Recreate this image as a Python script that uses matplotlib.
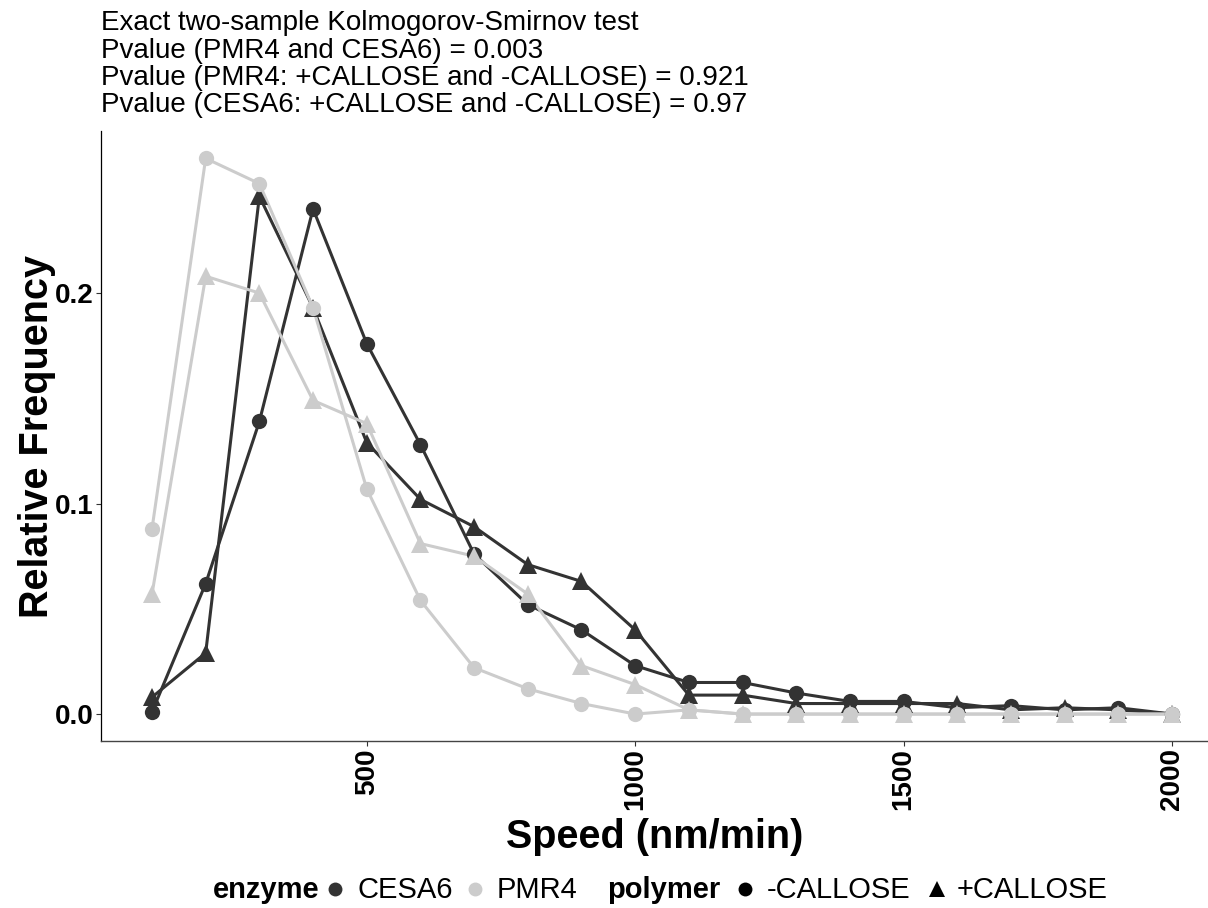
import matplotlib
matplotlib.use('Agg')
import matplotlib.pyplot as plt
from matplotlib.lines import Line2D

# vitesse (nm/min) et fréquences relatives
speed = [100, 200, 300, 400, 500, 600, 700, 800, 900, 1000,
         1100, 1200, 1300, 1400, 1500, 1600, 1700, 1800, 1900, 2000]
cesa6_minus = [0.001, 0.062, 0.139, 0.240, 0.176, 0.128, 0.076, 0.052, 0.040, 0.023,
               0.015, 0.015, 0.010, 0.006, 0.006, 0.003, 0.004, 0.002, 0.003, 0.0]
cesa6_plus = [0.008, 0.029, 0.246, 0.193, 0.129, 0.102, 0.089, 0.071, 0.063, 0.040,
              0.009, 0.009, 0.005, 0.005, 0.005, 0.005, 0.002, 0.003, 0.002, 0.0]
pmr4_minus = [0.088, 0.264, 0.252, 0.193, 0.107, 0.054, 0.022, 0.012, 0.005, 0.0,
              0.002, 0.0, 0.0, 0.0, 0.0, 0.0, 0.0, 0.0, 0.0, 0.0]
pmr4_plus = [0.057, 0.208, 0.200, 0.149, 0.138, 0.081, 0.075, 0.057, 0.023, 0.014,
             0.002, 0.0, 0.0, 0.0, 0.0, 0.0, 0.0, 0.0, 0.0, 0.0]

x_ticks = [500, 1000, 1500, 2000]
y_ticks = [0.0, 0.1, 0.2]
y_tick_labels = ['0.0', '0.1', '0.2']

title_lines = [
    'Exact two-sample Kolmogorov-Smirnov test',
    'Pvalue (PMR4 and CESA6) = 0.003',
    'Pvalue (PMR4: +CALLOSE and -CALLOSE) = 0.921',
    'Pvalue (CESA6: +CALLOSE and -CALLOSE) = 0.97',
]

DARK = '#333333'
LIGHT = '#CCCCCC'
W, H = 1208, 908

plt.rcParams['font.family'] = ['Liberation Sans', 'DejaVu Sans']

fig = plt.figure(figsize=(W / 100, H / 100), dpi=100)
ax = fig.add_axes([101 / W, 1 - 741 / H, (W - 101) / W, (741 - 131) / H])

series = [
    (cesa6_minus, DARK, 'o', 11),
    (cesa6_plus, DARK, '^', 13),
    (pmr4_minus, LIGHT, 'o', 11),
    (pmr4_plus, LIGHT, '^', 13),
]
for y, c, m, s in series:
    ax.plot(speed, y, color=c, lw=2.2, zorder=2, solid_joinstyle='round')
for y, c, m, s in series:
    ax.plot(speed, y, linestyle='none', marker=m, color=c, ms=s, mew=0, zorder=3)

ax.set_xlim(5, 2067)
ax.set_ylim(-0.0128, 0.277)

for side in ['top', 'right']:
    ax.spines[side].set_visible(False)
ax.spines['left'].set_color('black')
ax.spines['left'].set_linewidth(0.9)
ax.spines['bottom'].set_color('#444444')
ax.spines['bottom'].set_linewidth(1.0)

ax.set_xticks(x_ticks)
ax.set_xticklabels([str(v) for v in x_ticks], rotation=90, fontweight='bold', fontsize=20)
ax.set_yticks(y_ticks)
ax.set_yticklabels(y_tick_labels, fontweight='bold', fontsize=20)
ax.tick_params(length=3.6, width=0.8, color='#333333', pad=1.5, labelcolor='black')

ax.set_xlabel('Speed (nm/min)', fontsize=28.5, fontweight='bold', labelpad=5.5)
ax.set_ylabel('Relative Frequency', fontsize=28.5, fontweight='bold', labelpad=-0.5)

# titre sur quatre lignes
baselines = [30, 57.5, 85, 112]
for txt, yb in zip(title_lines, baselines):
    fig.text(101 / W, 1 - yb / H, txt, fontsize=20, va='baseline', ha='left')

# légende en bas, construite à la main
fig.canvas.draw()
renderer = fig.canvas.get_renderer()
leg_base = 1 - 898 / H
leg_mid = 1 - 889 / H
leg_fs = 21

items = [
    ('text', 'enzyme', 'bold', 16),
    ('key', DARK, 'o', 22),
    ('text', 'CESA6', 'normal', 22),
    ('key', LIGHT, 'o', 22),
    ('text', 'PMR4', 'normal', 30),
    ('text', 'polymer', 'bold', 24),
    ('key', 'black', 'o', 22),
    ('text', '-CALLOSE', 'normal', 27),
    ('key', 'black', '^', 19),
    ('text', '+CALLOSE', 'normal', 0),
]

widths = []
for kind, a, b, gap in items:
    if kind == 'text':
        t = fig.text(0, 0, a, fontsize=leg_fs, fontweight=b)
        widths.append(t.get_window_extent(renderer).width)
        t.remove()
    else:
        widths.append(0)
total = sum(widths) + sum(it[3] for it in items[:-1])
cursor = 660 - total / 2
for (kind, a, b, gap), w in zip(items, widths):
    if kind == 'text':
        fig.text(cursor / W, leg_base, a, fontsize=leg_fs, fontweight=b, va='baseline', ha='left')
    else:
        ms = 10 if b == 'o' else 12
        fig.add_artist(Line2D([cursor / W], [leg_mid], marker=b, color=a, ms=ms, mew=0,
                              linestyle='none', transform=fig.transFigure))
    cursor += w + gap

fig.savefig('out.png', dpi=100)
